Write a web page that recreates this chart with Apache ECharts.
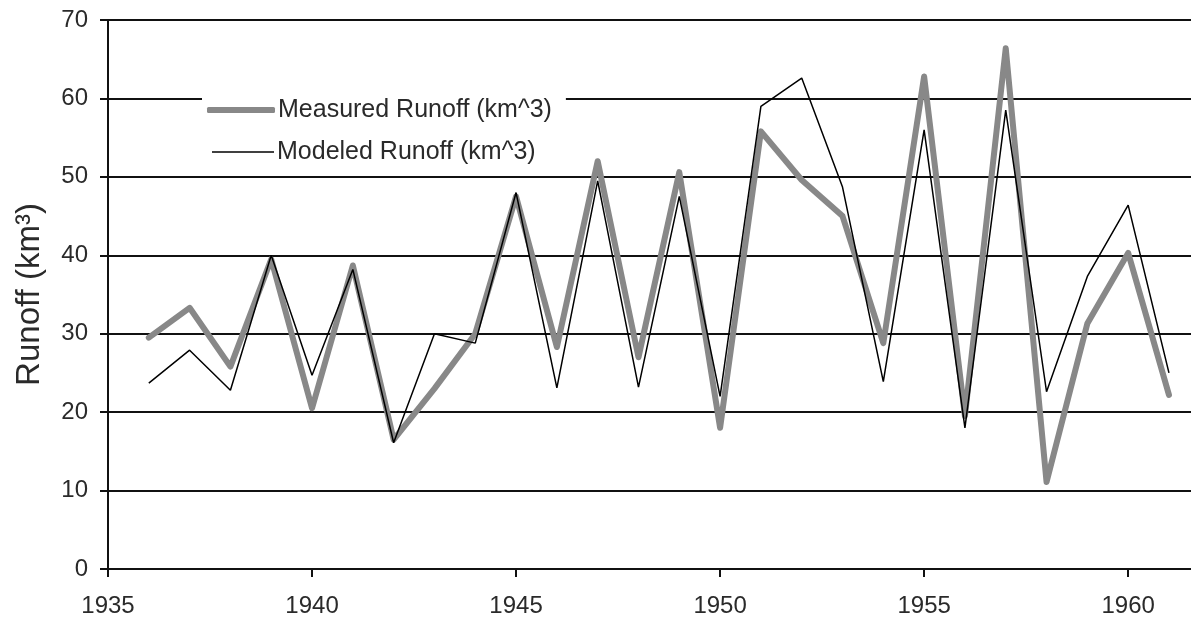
<!DOCTYPE html>
<html>
<head>
<meta charset="utf-8">
<script src="https://cdn.jsdelivr.net/npm/echarts@6/dist/echarts.min.js"></script>
<style>
html,body{margin:0;padding:0;background:#fff;}
#chart{width:1191px;height:618px;}
</style>
</head>
<body>
<div id="chart"></div>
<script>
const years = [1936,1937,1938,1939,1940,1941,1942,1943,1944,1945,1946,1947,1948,1949,1950,1951,1952,1953,1954,1955,1956,1957,1958,1959,1960,1961];
const measured = [29.5,33.3,25.8,39.5,20.5,38.7,16.5,23,30,47.5,28.3,52,27,50.6,18,55.8,49.6,45,28.8,62.8,19.5,66.4,11.1,31.3,40.3,22.2];
const modeled = [23.7,27.9,22.8,40,24.7,38.2,16.1,30,28.8,48,23.1,49.5,23.2,47.5,22,59,62.6,48.7,23.9,56,18,58.5,22.6,37.3,46.4,25];
const xTicks = [1935,1940,1945,1950,1955,1960];
const yTicks = [0,10,20,30,40,50,60,70];
const measuredName = 'Measured Runoff (km^3)';
const modeledName = 'Modeled Runoff (km^3)';

const FONT = 'Liberation Sans, Arial, sans-serif';
const chart = echarts.init(document.getElementById('chart'), null, {renderer:'canvas'});
chart.setOption({
  animation:false,
  backgroundColor:'#fff',
  grid:{left:108, top:20, right:0, bottom:49, containLabel:false},
  xAxis:{
    type:'value', min:1935, max:1961.54, interval:5,
    axisLine:{show:true, lineStyle:{color:'#111', width:2}},
    axisTick:{show:true, length:8, inside:false, customValues:xTicks, lineStyle:{color:'#111', width:2}},
    axisLabel:{customValues:xTicks, color:'#2a2a2a', fontSize:24, fontFamily:FONT, margin:25,
      formatter:v=>String(v)},
    splitLine:{show:false}
  },
  yAxis:{
    type:'value', min:0, max:70, interval:10,
    name:'Runoff (km³)', nameLocation:'middle', nameGap:62,
    nameTextStyle:{color:'#2a2a2a', fontSize:33, fontFamily:FONT},
    axisLine:{show:true, lineStyle:{color:'#111', width:2}},
    axisTick:{show:true, length:8, inside:false, lineStyle:{color:'#111', width:2}},
    axisLabel:{color:'#2a2a2a', fontSize:24, fontFamily:FONT, margin:20,
      customValues:yTicks, formatter:v=>String(v)},
    splitLine:{show:true, lineStyle:{color:'#111', width:2}}
  },
  legend:[
    {
      data:[{name:measuredName, icon:'roundRect', itemStyle:{color:'#888'}}],
      left:202, top:92, orient:'vertical',
      itemWidth:68, itemHeight:6, itemGap:0,
      padding:[4,14,4,5], backgroundColor:'#fff',
      selectedMode:false,
      textStyle:{color:'#2a2a2a', fontSize:25, fontFamily:FONT, lineHeight:28, padding:[0,0,0,-2]}
    },
    {
      data:[{name:modeledName, icon:'rect', itemStyle:{color:'#000'}}],
      left:212, top:138, orient:'vertical',
      itemWidth:62, itemHeight:1.5, itemGap:0,
      padding:0, selectedMode:false,
      textStyle:{color:'#2a2a2a', fontSize:25, fontFamily:FONT, lineHeight:28, padding:[0,0,0,-2]}
    }
  ],
  series:[
    {
      name:measuredName, type:'line', symbol:'none',
      data:years.map((y,i)=>[y,measured[i]]),
      lineStyle:{color:'#888', width:6, join:'round', cap:'round'},
      itemStyle:{color:'#888'}, z:2
    },
    {
      name:modeledName, type:'line', symbol:'none',
      data:years.map((y,i)=>[y,modeled[i]]),
      lineStyle:{color:'#000', width:1.5},
      itemStyle:{color:'#000'}, z:3
    }
  ]
});
</script>
</body>
</html>
